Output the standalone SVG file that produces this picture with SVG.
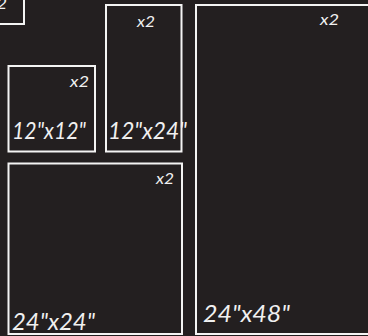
<svg xmlns="http://www.w3.org/2000/svg" width="368" height="336" viewBox="0 0 368 336">
<style>
.box{fill:none;stroke:#f4f4f4;stroke-width:2}
.qty{font-family:Lato,"Open Sans","DejaVu Sans",sans-serif;font-style:italic;font-size:16px;fill:#f0f0f0}
.size{font-family:Lato,"Open Sans","DejaVu Sans",sans-serif;font-style:italic;font-size:24px;fill:#f0f0f0}
</style>
<rect width="368" height="336" fill="#231f20"/>
<g id="panel-partial">
<rect class="box" x="-20" y="-20" width="44" height="44"/>
<text class="qty" x="-12" y="9" textLength="19" lengthAdjust="spacingAndGlyphs">x2</text>
</g>
<g id="panel-12x12">
<rect class="box" x="8.5" y="66" width="86.5" height="85.5"/>
<text class="qty" x="70" y="87" textLength="19" lengthAdjust="spacingAndGlyphs">x2</text>
<text class="size" x="12" y="139" textLength="74" lengthAdjust="spacingAndGlyphs">12"x12"</text>
</g>
<g id="panel-12x24">
<rect class="box" x="106" y="5" width="75.5" height="146.5"/>
<text class="qty" x="137" y="27" textLength="18" lengthAdjust="spacingAndGlyphs">x2</text>
<text class="size" x="108" y="139" textLength="79" lengthAdjust="spacingAndGlyphs">12"x24"</text>
</g>
<g id="panel-24x24">
<rect class="box" x="8.5" y="163.5" width="173.5" height="170.5"/>
<text class="qty" x="156" y="183.5" textLength="18" lengthAdjust="spacingAndGlyphs">x2</text>
<text class="size" x="12" y="330" textLength="83" lengthAdjust="spacingAndGlyphs">24"x24"</text>
</g>
<g id="panel-24x48">
<rect class="box" x="196" y="5" width="190" height="329"/>
<text class="qty" x="320" y="25" textLength="19" lengthAdjust="spacingAndGlyphs">x2</text>
<text class="size" x="203" y="322" textLength="87" lengthAdjust="spacingAndGlyphs">24"x48"</text>
</g>
<g id="connectors"/>
</svg>
